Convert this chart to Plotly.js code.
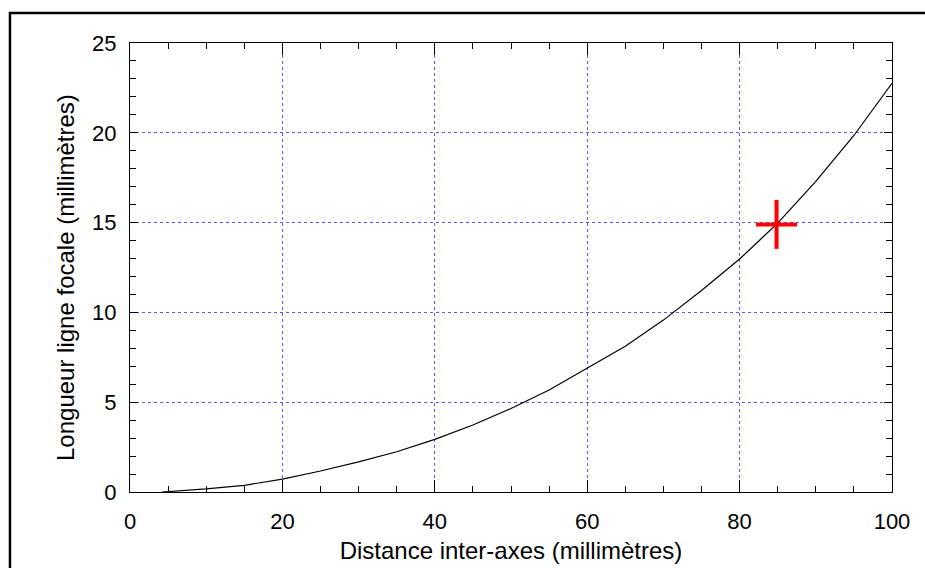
<!DOCTYPE html>
<html>
<head>
<meta charset="utf-8">
<script src="https://cdn.plot.ly/plotly-3.0.1.min.js"></script>
<style>html,body{margin:0;padding:0;background:#fff;}#chart{width:925px;height:568px;}</style>
</head>
<body>
<div id="chart"></div>
<script>
// Distance inter-axes (mm) vs longueur ligne focale (mm)
var distance = [4.2, 10, 15, 20, 25, 30, 35, 40, 45, 50, 55, 60, 65, 70, 75, 80, 85, 90, 95, 100];
var longueur = [0, 0.17, 0.37, 0.72, 1.17, 1.68, 2.24, 2.93, 3.73, 4.65, 5.68, 6.9, 8.12, 9.57, 11.22, 12.97, 14.97, 17.3, 19.85, 22.76];
// Highlighted operating point
var pointX = [84.85];
var pointY = [14.9];

var xTitle = "Distance inter-axes (millimètres)";
var yTitle = "Longueur ligne focale (millimètres)";

var font = "Liberation Sans, Arial, sans-serif";

var traces = [
  {x: distance, y: longueur, type: "scatter", mode: "lines",
   line: {color: "#000000", width: 1.2}, hoverinfo: "x+y"},
  {x: pointX, y: pointY, type: "scatter", mode: "markers",
   marker: {symbol: "line-ew", size: 29.3, color: "#ff0000", line: {color: "#ff0000", width: 4}}},
  {x: pointX, y: pointY, type: "scatter", mode: "markers",
   marker: {symbol: "line-ns", size: 35, color: "#ff0000", line: {color: "#ff0000", width: 4}}}
];

var axisCommon = {
  showline: true, linecolor: "#000000", linewidth: 1, mirror: "ticks",
  ticks: "inside", tickcolor: "#000000", tickwidth: 1,
  showgrid: true, gridcolor: "#5a5af2", griddash: "dot", gridwidth: 1,
  zeroline: false,
  tickfont: {family: font, size: 22, color: "#000000"}
};

var layout = {
  width: 925, height: 568,
  margin: {l: 130, r: 33, t: 43, b: 76},
  paper_bgcolor: "#ffffff", plot_bgcolor: "#ffffff",
  showlegend: false,
  font: {family: font, color: "#000000"},
  xaxis: Object.assign({}, axisCommon, {
    range: [0, 100], tick0: 0, dtick: 20, ticklen: 12,
    ticklabelstandoff: 10,
    minor: {dtick: 5, ticks: "inside", ticklen: 6, tickcolor: "#000000", showgrid: false},
    title: {text: xTitle, font: {family: font, size: 24, color: "#000000"}, standoff: 8}
  }),
  yaxis: Object.assign({}, axisCommon, {
    range: [0, 25], tick0: 0, dtick: 5, ticklen: 8,
    ticklabelstandoff: 8,
    minor: {dtick: 1, ticks: "inside", ticklen: 6, tickcolor: "#000000", showgrid: false}
  }),
  annotations: [
    {text: yTitle, xref: "paper", yref: "paper", x: -0.0853, y: 0.4766,
     xanchor: "center", yanchor: "middle", textangle: -90, showarrow: false,
     font: {family: font, size: 24, color: "#000000"}}
  ],
  shapes: [
    {type: "rect", xref: "paper", yref: "paper",
     x0: -0.1575, x1: 1.2, y0: -0.3, y1: 1.0668,
     line: {color: "#000000", width: 2.5}, fillcolor: "rgba(0,0,0,0)", layer: "below"}
  ]
};

Plotly.newPlot("chart", traces, layout, {displayModeBar: false, staticPlot: true});
</script>
</body>
</html>
